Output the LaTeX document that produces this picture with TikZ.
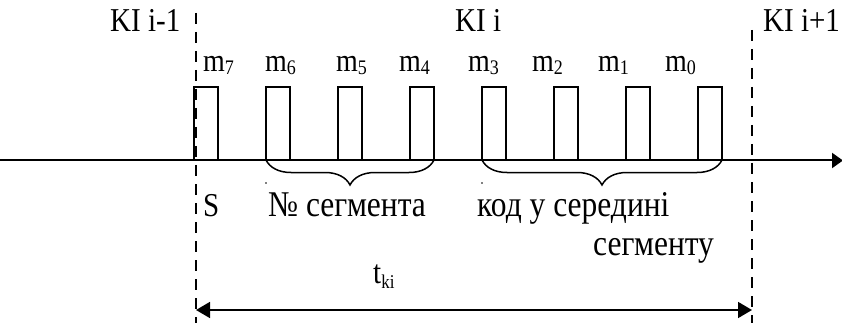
\documentclass[tikz,border=0pt]{standalone}
\usepackage{fontspec}
\setmainfont{Liberation Serif}
\usepackage{graphicx}
\usetikzlibrary{arrows.meta,decorations.pathreplacing}
\newcommand{\vst}[1]{\scalebox{1}[1.15]{#1}}
\newcommand{\mlab}[1]{\vst{\fontsize{28}{32}\selectfont m\raisebox{-2.5pt}{\fontsize{18}{20}\selectfont #1}}}
\tikzset{
  bit/.style={draw, line width=1.7pt, minimum width=24pt, minimum height=73pt, inner sep=0pt, outer sep=0pt},
  txt/.style={anchor=base west, inner sep=0pt, font=\fontsize{29}{34}\selectfont},
  cyr/.style={txt, font=\fontsize{31.5}{36}\selectfont},
  guide/.style={line width=1.3pt, dash pattern=on 11pt off 8pt},
  brc/.style={line width=1.5pt, decorate, decoration={brace, mirror, amplitude=25pt, aspect=0.5}},
}
\begin{document}
\begin{tikzpicture}[x=1pt,y=-1pt]
\useasboundingbox (0,0) rectangle (842,331);
% axis
\coordinate (a0) at (0,160.5);
\coordinate (a1) at (843,160.5);
\draw[line width=2pt, -{Triangle[length=11pt,width=15pt]}] (a0) -- (a1);
% dashed guides
\coordinate (l0) at (196,13);
\coordinate (l1) at (196,323);
\coordinate (r0) at (752,30);
\coordinate (r1) at (752,323);
\draw[guide] (l0) -- (l1);
\draw[guide] (r0) -- (r1);
% bits
\foreach \i/\x in {7/206,6/278,5/350,4/422,3/494,2/566,1/638,0/710}{
  \node[bit] (b\i) at (\x,123.5) {};
}
% bit labels
\foreach \i/\x in {7/203,6/265,5/336,4/399,3/468,2/532,1/598,0/665}{
  \node[txt] (m\i) at (\x,72) {\mlab{\i}};
}
% KI labels
\node[txt] (kim) at (110,32) {\vst{KI i-1}};
\node[txt] (ki) at (455,32) {\vst{KI i}};
\node[txt] (kip) at (763,32) {\vst{KI i+1}};
% braces
\draw[brc] (b6.south west) -- (b4.south east);
\draw[brc] (b3.south west) -- (b0.south east);
\fill (266,183) circle (0.9pt);
\fill (482,183) circle (0.9pt);
% lower texts
\node[txt] (s) at (203,216) {\vst{S}};
\node[cyr] (seg) at (268,216) {\vst{№ сегмента}};
\node[cyr] (kod) at (477,216) {\vst{код у середині}};
\node[cyr] (kod2) at (593,255) {\vst{сегменту}};
\node[txt] (t) at (373,283) {\vst{t\raisebox{-5pt}{\fontsize{17}{20}\selectfont ki}}};
% duration arrow
\coordinate (d0) at (196,310);
\coordinate (d1) at (752,310);
\draw[line width=1.7pt, {Triangle[length=14pt,width=16pt]}-{Triangle[length=14pt,width=16pt]}] (d0) -- (d1);
\end{tikzpicture}
\end{document}
